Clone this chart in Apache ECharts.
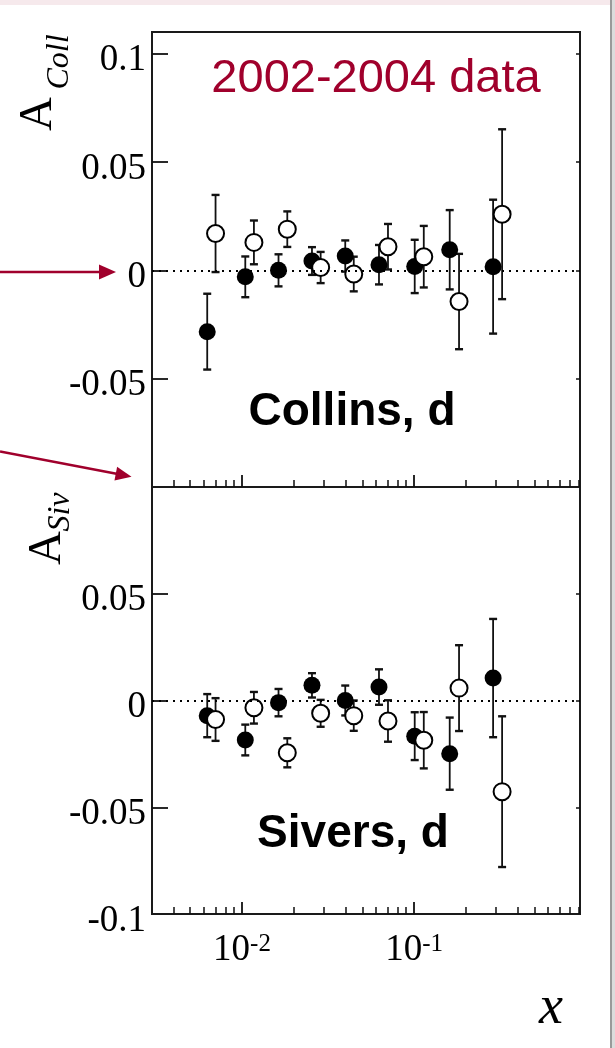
<!DOCTYPE html>
<html><head><meta charset="utf-8">
<script src="https://cdn.jsdelivr.net/npm/echarts@6/dist/echarts.min.js"></script>
<style>html,body{margin:0;padding:0;background:#fff}#c{width:615px;height:1048px}</style>
</head><body><div id="c"></div>
<script>
// ---- data ----
const xFilled = [0.00628, 0.01045, 0.0163, 0.0255, 0.0398, 0.0625, 0.1008, 0.161, 0.2877];
const xOpen   = [0.00702, 0.01173, 0.01833, 0.02864, 0.0446, 0.0705, 0.1138, 0.1824, 0.3245];

const collinsFilled    = [-0.0283, -0.0030, 0.0000, 0.0043, 0.0066, 0.0026, 0.0018, 0.0095, 0.0017];
const collinsFilledErr = [0.0175, 0.0094, 0.0074, 0.0064, 0.0072, 0.0091, 0.0123, 0.0183, 0.0309];
const collinsOpen      = [0.0170, 0.0129, 0.0190, 0.0013, -0.0017, 0.0109, 0.0063, -0.0144, 0.0259];
const collinsOpenErr   = [0.0178, 0.0101, 0.0082, 0.0072, 0.0080, 0.0105, 0.0142, 0.0220, 0.0392];

const siversFilled    = [-0.0071, -0.0185, -0.0010, 0.0071, 0.0000, 0.0063, -0.0167, -0.0249, 0.0105];
const siversFilledErr = [0.0101, 0.0072, 0.0064, 0.0057, 0.0070, 0.0083, 0.0112, 0.0169, 0.0277];
const siversOpen      = [-0.0089, -0.0034, -0.0245, -0.0060, -0.0071, -0.0096, -0.0186, 0.0058, -0.0427];
const siversOpenErr   = [0.0100, 0.0074, 0.0068, 0.0063, 0.0071, 0.0097, 0.0132, 0.0201, 0.0353];

const xRange = [0.003, 0.92];
const xMajorTicks = [0.01, 0.1];
const xMinorTicks = [0.004,0.005,0.006,0.007,0.008,0.009,0.02,0.03,0.04,0.05,0.06,0.07,0.08,0.09,0.2,0.3,0.4,0.5,0.6,0.7,0.8,0.9];

const collRange = [-0.1, 0.11];
const collTicks = [-0.05, 0, 0.05, 0.1];
const collLabels = [-0.05, 0, 0.05, 0.1];
const sivRange = [-0.1, 0.1];
const sivTicks = [-0.05, 0, 0.05];
const sivLabels = [-0.1, -0.05, 0, 0.05];

const titleText = '2002-2004 data';
const panelNames = ['Collins, d', 'Sivers, d'];

// ---- chart ----
const RED = '#a0002c';
const SERIF = '"Liberation Serif", "DejaVu Serif", serif';
const SANS = '"Liberation Sans", Arial, sans-serif';
const lg = Math.log10;

const grids = [
  {left:152, top:32, width:428, height:455},
  {left:152, top:487, width:428, height:427}
].map(g => Object.assign(g, {show:true, borderColor:'#1a1a1a', borderWidth:2, backgroundColor:'transparent', containLabel:false}));

function xAxesFor(gi, withLabels) {
  const base = {gridIndex:gi, position:'bottom', splitLine:{show:false}, axisLine:{show:false, onZero:false}};
  return [
    Object.assign({}, base, {type:'log', logBase:10, min:xRange[0], max:xRange[1],
      axisTick:{show:false}, axisLabel:{show:false}}),
    Object.assign({}, base, {type:'value', min:lg(xRange[0]), max:lg(xRange[1]),
      axisTick:{show:true, inside:true, length:12, lineStyle:{color:'#111', width:1.8}, customValues:xMajorTicks.map(lg)},
      axisLabel:{show:withLabels, customValues:xMajorTicks.map(lg), margin:18,
        formatter: v => '{b|10}{s|' + Math.round(v) + '}',
        rich:{b:{fontFamily:SERIF, fontSize:37, color:'#000', lineHeight:37},
              s:{fontFamily:SERIF, fontSize:25, color:'#000', verticalAlign:'top', lineHeight:25}}}}),
    Object.assign({}, base, {type:'value', min:lg(xRange[0]), max:lg(xRange[1]),
      axisTick:{show:true, inside:true, length:7, lineStyle:{color:'#111', width:1.5}, customValues:xMinorTicks.map(lg)},
      axisLabel:{show:false}})
  ];
}
function yAxesFor(gi, range, ticks, labels) {
  return [
    {type:'value', gridIndex:gi, position:'left', min:range[0], max:range[1],
     splitLine:{show:false}, axisLine:{show:false, onZero:false},
     axisTick:{show:true, inside:true, length:16, lineStyle:{color:'#111', width:1.8}, customValues:ticks},
     axisLabel:{show:true, customValues:labels, margin:6,
       formatter: v => '{t|' + String(v) + '}',
       rich:{t:{fontFamily:SERIF, fontSize:37, color:'#000', padding:[14,0,0,0]}}}},
    {type:'value', gridIndex:gi, position:'right', min:range[0], max:range[1],
     splitLine:{show:false}, axisLine:{show:false, onZero:false},
     axisTick:{show:true, inside:true, length:4, lineStyle:{color:'#111', width:1.5}, customValues:ticks},
     axisLabel:{show:false}}
  ];
}

function errSeries(xs, vals, errs, gi) {
  return {type:'custom', xAxisIndex:gi*3, yAxisIndex:gi*2, z:2, silent:true, animation:false,
    data: xs.map((x,i) => [x, vals[i], errs[i]]),
    renderItem: (params, api) => {
      const x = api.value(0), v = api.value(1), e = api.value(2);
      const t = api.coord([x, v + e]), b = api.coord([x, v - e]);
      const w = 4;
      return {type:'group', children:[
        {type:'line', shape:{x1:t[0], y1:t[1], x2:b[0], y2:b[1]}, style:{stroke:'#111', lineWidth:1.8}},
        {type:'line', shape:{x1:t[0]-w, y1:t[1], x2:t[0]+w, y2:t[1]}, style:{stroke:'#111', lineWidth:2.4}},
        {type:'line', shape:{x1:b[0]-w, y1:b[1], x2:b[0]+w, y2:b[1]}, style:{stroke:'#111', lineWidth:2.4}}
      ]};
    }};
}
function filledSeries(xs, vals, gi) {
  return {type:'scatter', xAxisIndex:gi*3, yAxisIndex:gi*2, z:3, silent:true, animation:false,
    symbol:'circle', symbolSize:17, itemStyle:{color:'#000', opacity:1},
    data: xs.map((x,i) => [x, vals[i]]),
    markLine:{silent:true, symbol:'none', animation:false, label:{show:false},
      lineStyle:{color:'#000', type:[2,5], width:2, opacity:1}, data:[{yAxis:0}]}};
}
function openSeries(xs, vals, gi) {
  return {type:'scatter', xAxisIndex:gi*3, yAxisIndex:gi*2, z:4, silent:true, animation:false,
    symbol:'circle', symbolSize:17, itemStyle:{color:'#fff', borderColor:'#000', borderWidth:2, opacity:1},
    data: xs.map((x,i) => [x, vals[i]])};
}

// arrow 2 geometry
const a2s = [0, 451.5], a2t = [131.5, 476.7];
const dx = a2t[0]-a2s[0], dy = a2t[1]-a2s[1], L = Math.hypot(dx, dy), ux = dx/L, uy = dy/L;
const hb = [a2t[0]-16*ux, a2t[1]-16*uy], px = -uy*7, py = ux*7;

const txt = (s) => Object.assign({align:'center', verticalAlign:'middle', textAlign:'center', textVerticalAlign:'middle'}, s);

const option = {
  animation:false,
  backgroundColor:'#fff',
  grid: grids,
  xAxis: [...xAxesFor(0, false), ...xAxesFor(1, true)],
  yAxis: [...yAxesFor(0, collRange, collTicks, collLabels), ...yAxesFor(1, sivRange, sivTicks, sivLabels)],
  series: [
    errSeries(xFilled, collinsFilled, collinsFilledErr, 0),
    errSeries(xOpen, collinsOpen, collinsOpenErr, 0),
    filledSeries(xFilled, collinsFilled, 0),
    openSeries(xOpen, collinsOpen, 0),
    errSeries(xFilled, siversFilled, siversFilledErr, 1),
    errSeries(xOpen, siversOpen, siversOpenErr, 1),
    filledSeries(xFilled, siversFilled, 1),
    openSeries(xOpen, siversOpen, 1)
  ],
  graphic: [
    {type:'rect', shape:{x:0, y:0, width:615, height:5}, style:{fill:'#f6e9ec'}, silent:true},
    {type:'rect', shape:{x:610, y:0, width:2, height:1048}, style:{fill:'#9a9a9a'}, silent:true},
    {type:'rect', shape:{x:612, y:0, width:3, height:1048}, style:{fill:'#dcdcdc'}, silent:true},
    {type:'text', x:376, y:79, silent:true, style:txt({text:titleText, fill:RED, fontFamily:SANS, fontSize:47})},
    {type:'text', x:352, y:412, silent:true, style:txt({text:panelNames[0], fill:'#000', fontFamily:SANS, fontWeight:'bold', fontSize:46})},
    {type:'text', x:353, y:834, silent:true, style:txt({text:panelNames[1], fill:'#000', fontFamily:SANS, fontWeight:'bold', fontSize:46})},
    {type:'text', x:551, y:1009, silent:true, style:txt({text:'x', fill:'#000', fontFamily:SERIF, fontStyle:'italic', fontSize:54})},
    {type:'text', x:39, y:114, rotation:Math.PI/2, silent:true, style:txt({text:'A', fill:'#000', fontFamily:SERIF, fontSize:47})},
    {type:'text', x:60, y:62, rotation:Math.PI/2, silent:true, style:txt({text:'Coll', fill:'#000', fontFamily:SERIF, fontStyle:'italic', fontSize:32})},
    {type:'text', x:48, y:548, rotation:Math.PI/2, silent:true, style:txt({text:'A', fill:'#000', fontFamily:SERIF, fontSize:47})},
    {type:'text', x:61, y:512, rotation:Math.PI/2, silent:true, style:txt({text:'Siv', fill:'#000', fontFamily:SERIF, fontStyle:'italic', fontSize:32})},
    {type:'line', shape:{x1:0, y1:272, x2:102, y2:272}, style:{stroke:RED, lineWidth:2.5}, silent:true},
    {type:'polygon', shape:{points:[[116,272],[99,264.5],[99,279.5]]}, style:{fill:RED}, silent:true},
    {type:'line', shape:{x1:a2s[0], y1:a2s[1], x2:hb[0]+2*ux, y2:hb[1]+2*uy}, style:{stroke:RED, lineWidth:2.5}, silent:true},
    {type:'polygon', shape:{points:[a2t, [hb[0]+px, hb[1]+py], [hb[0]-px, hb[1]-py]]}, style:{fill:RED}, silent:true}
  ]
};
const chart = echarts.init(document.getElementById('c'), null, {renderer:'canvas'});
chart.setOption(option);
</script></body></html>
